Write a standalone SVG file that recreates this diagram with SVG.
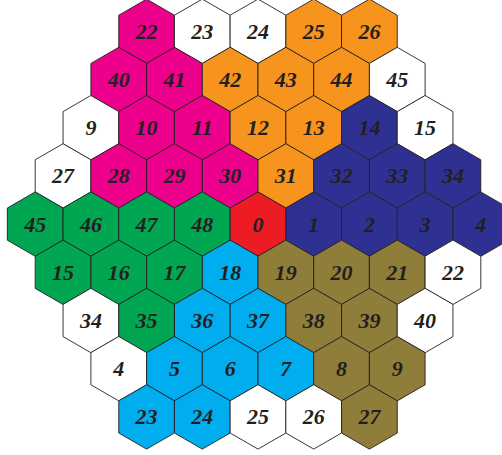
<svg xmlns="http://www.w3.org/2000/svg" xmlns:xlink="http://www.w3.org/1999/xlink" width="502" height="455" viewBox="0 0 502 455">
<style>
.h polygon{stroke:#231F20;stroke-width:0.9;stroke-linejoin:miter}
.w polygon{fill:#FFFFFF}
.m polygon{fill:#EC008C}
.o polygon{fill:#F7941D}
.n polygon{fill:#2E3192}
.g polygon{fill:#00A651}
.r polygon{fill:#ED1C24}
.c polygon{fill:#00AEEF}
.l polygon{fill:#8F7D3A}
.h text{font-family:"Liberation Serif","Times New Roman",serif;font-weight:bold;font-style:italic;font-size:22px;fill:#231F20;text-anchor:middle}
</style>
<rect width="502" height="455" fill="#FFFFFF"/>
<g id="hexes">
<!-- row 0 -->
<g id="r0c0" class="h m" transform="translate(146.6,31.3)"><polygon points="0,-32.2 27.85,-16.1 27.85,16.1 0,32.2 -27.85,16.1 -27.85,-16.1"/><text x="0" y="7.5">22</text></g>
<g id="r0c1" class="h w" transform="translate(202.3,31.3)"><polygon points="0,-32.2 27.85,-16.1 27.85,16.1 0,32.2 -27.85,16.1 -27.85,-16.1"/><text x="0" y="7.5">23</text></g>
<g id="r0c2" class="h w" transform="translate(258,31.3)"><polygon points="0,-32.2 27.85,-16.1 27.85,16.1 0,32.2 -27.85,16.1 -27.85,-16.1"/><text x="0" y="7.5">24</text></g>
<g id="r0c3" class="h o" transform="translate(313.7,31.3)"><polygon points="0,-32.2 27.85,-16.1 27.85,16.1 0,32.2 -27.85,16.1 -27.85,-16.1"/><text x="0" y="7.5">25</text></g>
<g id="r0c4" class="h o" transform="translate(369.4,31.3)"><polygon points="0,-32.2 27.85,-16.1 27.85,16.1 0,32.2 -27.85,16.1 -27.85,-16.1"/><text x="0" y="7.5">26</text></g>
<!-- row 1 -->
<g id="r1c0" class="h m" transform="translate(118.75,79.5)"><polygon points="0,-32.2 27.85,-16.1 27.85,16.1 0,32.2 -27.85,16.1 -27.85,-16.1"/><text x="0" y="7.5">40</text></g>
<g id="r1c1" class="h m" transform="translate(174.45,79.5)"><polygon points="0,-32.2 27.85,-16.1 27.85,16.1 0,32.2 -27.85,16.1 -27.85,-16.1"/><text x="0" y="7.5">41</text></g>
<g id="r1c2" class="h o" transform="translate(230.15,79.5)"><polygon points="0,-32.2 27.85,-16.1 27.85,16.1 0,32.2 -27.85,16.1 -27.85,-16.1"/><text x="0" y="7.5">42</text></g>
<g id="r1c3" class="h o" transform="translate(285.85,79.5)"><polygon points="0,-32.2 27.85,-16.1 27.85,16.1 0,32.2 -27.85,16.1 -27.85,-16.1"/><text x="0" y="7.5">43</text></g>
<g id="r1c4" class="h o" transform="translate(341.55,79.5)"><polygon points="0,-32.2 27.85,-16.1 27.85,16.1 0,32.2 -27.85,16.1 -27.85,-16.1"/><text x="0" y="7.5">44</text></g>
<g id="r1c5" class="h w" transform="translate(397.25,79.5)"><polygon points="0,-32.2 27.85,-16.1 27.85,16.1 0,32.2 -27.85,16.1 -27.85,-16.1"/><text x="0" y="7.5">45</text></g>
<!-- row 2 -->
<g id="r2c0" class="h w" transform="translate(90.9,127.7)"><polygon points="0,-32.2 27.85,-16.1 27.85,16.1 0,32.2 -27.85,16.1 -27.85,-16.1"/><text x="0" y="7.5">9</text></g>
<g id="r2c1" class="h m" transform="translate(146.6,127.7)"><polygon points="0,-32.2 27.85,-16.1 27.85,16.1 0,32.2 -27.85,16.1 -27.85,-16.1"/><text x="0" y="7.5">10</text></g>
<g id="r2c2" class="h m" transform="translate(202.3,127.7)"><polygon points="0,-32.2 27.85,-16.1 27.85,16.1 0,32.2 -27.85,16.1 -27.85,-16.1"/><text x="0" y="7.5">11</text></g>
<g id="r2c3" class="h o" transform="translate(258,127.7)"><polygon points="0,-32.2 27.85,-16.1 27.85,16.1 0,32.2 -27.85,16.1 -27.85,-16.1"/><text x="0" y="7.5">12</text></g>
<g id="r2c4" class="h o" transform="translate(313.7,127.7)"><polygon points="0,-32.2 27.85,-16.1 27.85,16.1 0,32.2 -27.85,16.1 -27.85,-16.1"/><text x="0" y="7.5">13</text></g>
<g id="r2c5" class="h n" transform="translate(369.4,127.7)"><polygon points="0,-32.2 27.85,-16.1 27.85,16.1 0,32.2 -27.85,16.1 -27.85,-16.1"/><text x="0" y="7.5">14</text></g>
<g id="r2c6" class="h w" transform="translate(425.1,127.7)"><polygon points="0,-32.2 27.85,-16.1 27.85,16.1 0,32.2 -27.85,16.1 -27.85,-16.1"/><text x="0" y="7.5">15</text></g>
<!-- row 3 -->
<g id="r3c0" class="h w" transform="translate(63.05,175.9)"><polygon points="0,-32.2 27.85,-16.1 27.85,16.1 0,32.2 -27.85,16.1 -27.85,-16.1"/><text x="0" y="7.5">27</text></g>
<g id="r3c1" class="h m" transform="translate(118.75,175.9)"><polygon points="0,-32.2 27.85,-16.1 27.85,16.1 0,32.2 -27.85,16.1 -27.85,-16.1"/><text x="0" y="7.5">28</text></g>
<g id="r3c2" class="h m" transform="translate(174.45,175.9)"><polygon points="0,-32.2 27.85,-16.1 27.85,16.1 0,32.2 -27.85,16.1 -27.85,-16.1"/><text x="0" y="7.5">29</text></g>
<g id="r3c3" class="h m" transform="translate(230.15,175.9)"><polygon points="0,-32.2 27.85,-16.1 27.85,16.1 0,32.2 -27.85,16.1 -27.85,-16.1"/><text x="0" y="7.5">30</text></g>
<g id="r3c4" class="h o" transform="translate(285.85,175.9)"><polygon points="0,-32.2 27.85,-16.1 27.85,16.1 0,32.2 -27.85,16.1 -27.85,-16.1"/><text x="0" y="7.5">31</text></g>
<g id="r3c5" class="h n" transform="translate(341.55,175.9)"><polygon points="0,-32.2 27.85,-16.1 27.85,16.1 0,32.2 -27.85,16.1 -27.85,-16.1"/><text x="0" y="7.5">32</text></g>
<g id="r3c6" class="h n" transform="translate(397.25,175.9)"><polygon points="0,-32.2 27.85,-16.1 27.85,16.1 0,32.2 -27.85,16.1 -27.85,-16.1"/><text x="0" y="7.5">33</text></g>
<g id="r3c7" class="h n" transform="translate(452.95,175.9)"><polygon points="0,-32.2 27.85,-16.1 27.85,16.1 0,32.2 -27.85,16.1 -27.85,-16.1"/><text x="0" y="7.5">34</text></g>
<!-- row 4 -->
<g id="r4c0" class="h g" transform="translate(35.2,224.1)"><polygon points="0,-32.2 27.85,-16.1 27.85,16.1 0,32.2 -27.85,16.1 -27.85,-16.1"/><text x="0" y="7.5">45</text></g>
<g id="r4c1" class="h g" transform="translate(90.9,224.1)"><polygon points="0,-32.2 27.85,-16.1 27.85,16.1 0,32.2 -27.85,16.1 -27.85,-16.1"/><text x="0" y="7.5">46</text></g>
<g id="r4c2" class="h g" transform="translate(146.6,224.1)"><polygon points="0,-32.2 27.85,-16.1 27.85,16.1 0,32.2 -27.85,16.1 -27.85,-16.1"/><text x="0" y="7.5">47</text></g>
<g id="r4c3" class="h g" transform="translate(202.3,224.1)"><polygon points="0,-32.2 27.85,-16.1 27.85,16.1 0,32.2 -27.85,16.1 -27.85,-16.1"/><text x="0" y="7.5">48</text></g>
<g id="r4c4" class="h r" transform="translate(258,224.1)"><polygon points="0,-32.2 27.85,-16.1 27.85,16.1 0,32.2 -27.85,16.1 -27.85,-16.1"/><text x="0" y="7.5">0</text></g>
<g id="r4c5" class="h n" transform="translate(313.7,224.1)"><polygon points="0,-32.2 27.85,-16.1 27.85,16.1 0,32.2 -27.85,16.1 -27.85,-16.1"/><text x="0" y="7.5">1</text></g>
<g id="r4c6" class="h n" transform="translate(369.4,224.1)"><polygon points="0,-32.2 27.85,-16.1 27.85,16.1 0,32.2 -27.85,16.1 -27.85,-16.1"/><text x="0" y="7.5">2</text></g>
<g id="r4c7" class="h n" transform="translate(425.1,224.1)"><polygon points="0,-32.2 27.85,-16.1 27.85,16.1 0,32.2 -27.85,16.1 -27.85,-16.1"/><text x="0" y="7.5">3</text></g>
<g id="r4c8" class="h n" transform="translate(480.8,224.1)"><polygon points="0,-32.2 27.85,-16.1 27.85,16.1 0,32.2 -27.85,16.1 -27.85,-16.1"/><text x="0" y="7.5">4</text></g>
<!-- row 5 -->
<g id="r5c0" class="h g" transform="translate(63.05,272.3)"><polygon points="0,-32.2 27.85,-16.1 27.85,16.1 0,32.2 -27.85,16.1 -27.85,-16.1"/><text x="0" y="7.5">15</text></g>
<g id="r5c1" class="h g" transform="translate(118.75,272.3)"><polygon points="0,-32.2 27.85,-16.1 27.85,16.1 0,32.2 -27.85,16.1 -27.85,-16.1"/><text x="0" y="7.5">16</text></g>
<g id="r5c2" class="h g" transform="translate(174.45,272.3)"><polygon points="0,-32.2 27.85,-16.1 27.85,16.1 0,32.2 -27.85,16.1 -27.85,-16.1"/><text x="0" y="7.5">17</text></g>
<g id="r5c3" class="h c" transform="translate(230.15,272.3)"><polygon points="0,-32.2 27.85,-16.1 27.85,16.1 0,32.2 -27.85,16.1 -27.85,-16.1"/><text x="0" y="7.5">18</text></g>
<g id="r5c4" class="h l" transform="translate(285.85,272.3)"><polygon points="0,-32.2 27.85,-16.1 27.85,16.1 0,32.2 -27.85,16.1 -27.85,-16.1"/><text x="0" y="7.5">19</text></g>
<g id="r5c5" class="h l" transform="translate(341.55,272.3)"><polygon points="0,-32.2 27.85,-16.1 27.85,16.1 0,32.2 -27.85,16.1 -27.85,-16.1"/><text x="0" y="7.5">20</text></g>
<g id="r5c6" class="h l" transform="translate(397.25,272.3)"><polygon points="0,-32.2 27.85,-16.1 27.85,16.1 0,32.2 -27.85,16.1 -27.85,-16.1"/><text x="0" y="7.5">21</text></g>
<g id="r5c7" class="h w" transform="translate(452.95,272.3)"><polygon points="0,-32.2 27.85,-16.1 27.85,16.1 0,32.2 -27.85,16.1 -27.85,-16.1"/><text x="0" y="7.5">22</text></g>
<!-- row 6 -->
<g id="r6c0" class="h w" transform="translate(90.9,320.5)"><polygon points="0,-32.2 27.85,-16.1 27.85,16.1 0,32.2 -27.85,16.1 -27.85,-16.1"/><text x="0" y="7.5">34</text></g>
<g id="r6c1" class="h g" transform="translate(146.6,320.5)"><polygon points="0,-32.2 27.85,-16.1 27.85,16.1 0,32.2 -27.85,16.1 -27.85,-16.1"/><text x="0" y="7.5">35</text></g>
<g id="r6c2" class="h c" transform="translate(202.3,320.5)"><polygon points="0,-32.2 27.85,-16.1 27.85,16.1 0,32.2 -27.85,16.1 -27.85,-16.1"/><text x="0" y="7.5">36</text></g>
<g id="r6c3" class="h c" transform="translate(258,320.5)"><polygon points="0,-32.2 27.85,-16.1 27.85,16.1 0,32.2 -27.85,16.1 -27.85,-16.1"/><text x="0" y="7.5">37</text></g>
<g id="r6c4" class="h l" transform="translate(313.7,320.5)"><polygon points="0,-32.2 27.85,-16.1 27.85,16.1 0,32.2 -27.85,16.1 -27.85,-16.1"/><text x="0" y="7.5">38</text></g>
<g id="r6c5" class="h l" transform="translate(369.4,320.5)"><polygon points="0,-32.2 27.85,-16.1 27.85,16.1 0,32.2 -27.85,16.1 -27.85,-16.1"/><text x="0" y="7.5">39</text></g>
<g id="r6c6" class="h w" transform="translate(425.1,320.5)"><polygon points="0,-32.2 27.85,-16.1 27.85,16.1 0,32.2 -27.85,16.1 -27.85,-16.1"/><text x="0" y="7.5">40</text></g>
<!-- row 7 -->
<g id="r7c0" class="h w" transform="translate(118.75,368.7)"><polygon points="0,-32.2 27.85,-16.1 27.85,16.1 0,32.2 -27.85,16.1 -27.85,-16.1"/><text x="0" y="7.5">4</text></g>
<g id="r7c1" class="h c" transform="translate(174.45,368.7)"><polygon points="0,-32.2 27.85,-16.1 27.85,16.1 0,32.2 -27.85,16.1 -27.85,-16.1"/><text x="0" y="7.5">5</text></g>
<g id="r7c2" class="h c" transform="translate(230.15,368.7)"><polygon points="0,-32.2 27.85,-16.1 27.85,16.1 0,32.2 -27.85,16.1 -27.85,-16.1"/><text x="0" y="7.5">6</text></g>
<g id="r7c3" class="h c" transform="translate(285.85,368.7)"><polygon points="0,-32.2 27.85,-16.1 27.85,16.1 0,32.2 -27.85,16.1 -27.85,-16.1"/><text x="0" y="7.5">7</text></g>
<g id="r7c4" class="h l" transform="translate(341.55,368.7)"><polygon points="0,-32.2 27.85,-16.1 27.85,16.1 0,32.2 -27.85,16.1 -27.85,-16.1"/><text x="0" y="7.5">8</text></g>
<g id="r7c5" class="h l" transform="translate(397.25,368.7)"><polygon points="0,-32.2 27.85,-16.1 27.85,16.1 0,32.2 -27.85,16.1 -27.85,-16.1"/><text x="0" y="7.5">9</text></g>
<!-- row 8 -->
<g id="r8c0" class="h c" transform="translate(146.6,416.9)"><polygon points="0,-32.2 27.85,-16.1 27.85,16.1 0,32.2 -27.85,16.1 -27.85,-16.1"/><text x="0" y="7.5">23</text></g>
<g id="r8c1" class="h c" transform="translate(202.3,416.9)"><polygon points="0,-32.2 27.85,-16.1 27.85,16.1 0,32.2 -27.85,16.1 -27.85,-16.1"/><text x="0" y="7.5">24</text></g>
<g id="r8c2" class="h w" transform="translate(258,416.9)"><polygon points="0,-32.2 27.85,-16.1 27.85,16.1 0,32.2 -27.85,16.1 -27.85,-16.1"/><text x="0" y="7.5">25</text></g>
<g id="r8c3" class="h w" transform="translate(313.7,416.9)"><polygon points="0,-32.2 27.85,-16.1 27.85,16.1 0,32.2 -27.85,16.1 -27.85,-16.1"/><text x="0" y="7.5">26</text></g>
<g id="r8c4" class="h l" transform="translate(369.4,416.9)"><polygon points="0,-32.2 27.85,-16.1 27.85,16.1 0,32.2 -27.85,16.1 -27.85,-16.1"/><text x="0" y="7.5">27</text></g>
</g>
</svg>
